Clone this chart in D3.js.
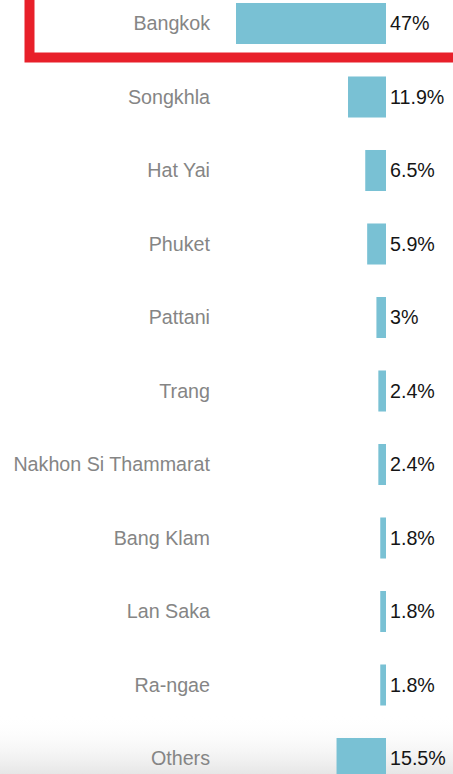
<!DOCTYPE html>
<html>
<head>
<meta charset="utf-8">
<script src="https://cdn.jsdelivr.net/npm/d3@7"></script>
<style>
html,body{margin:0;padding:0;background:#fff;overflow:hidden;}
svg{display:block;}
</style>
</head>
<body>
<svg id="chart" width="453" height="774"></svg>
<script>
const categories = ["Bangkok","Songkhla","Hat Yai","Phuket","Pattani","Trang","Nakhon Si Thammarat","Bang Klam","Lan Saka","Ra-ngae","Others"];
const values = [47, 11.9, 6.5, 5.9, 3, 2.4, 2.4, 1.8, 1.8, 1.8, 15.5];
const valueLabels = ["47%","11.9%","6.5%","5.9%","3%","2.4%","2.4%","1.8%","1.8%","1.8%","15.5%"];
const highlighted = ["Bangkok"];

const W = 453, H = 774;
const svg = d3.select("#chart");

// bottom shadow gradient
const defs = svg.append("defs");
const grad = defs.append("linearGradient").attr("id","shade").attr("x1",0).attr("y1",0).attr("x2",0).attr("y2",1);
grad.append("stop").attr("offset","0%").attr("stop-color","#ffffff").attr("stop-opacity",0);
grad.append("stop").attr("offset","100%").attr("stop-color","#e6e6e6").attr("stop-opacity",1);
svg.append("rect").attr("x",0).attr("y",715).attr("width",W).attr("height",H-715).attr("fill","url(#shade)");

const baseX = 386;
const x = d3.scaleLinear().domain([0, 47]).range([0, 150]);
const y = d3.scaleBand().domain(categories).range([-13.25, -13.25 + 73.5*11]).paddingInner(0.442).paddingOuter(0.221);

const data = categories.map((c,i)=>({c, v: values[i], t: valueLabels[i]}));

svg.append("g").selectAll("rect").data(data).join("rect")
  .attr("x", d => baseX - x(d.v))
  .attr("y", d => y(d.c))
  .attr("width", d => x(d.v))
  .attr("height", y.bandwidth())
  .attr("fill", "#79c1d4");

svg.append("g").selectAll("text").data(data).join("text")
  .attr("x", 210)
  .attr("y", d => y(d.c) + y.bandwidth()/2 + 6.5)
  .attr("text-anchor","end")
  .attr("font-family","'Liberation Sans', Arial, sans-serif")
  .attr("font-size", 19.7)
  .attr("fill","#858585")
  .text(d => d.c);

svg.append("g").selectAll("text").data(data).join("text")
  .attr("x", 390)
  .attr("y", d => y(d.c) + y.bandwidth()/2 + 6.5)
  .attr("font-family","'Liberation Sans', Arial, sans-serif")
  .attr("font-size", 19.7)
  .attr("fill","#151515")
  .text(d => d.t);

// red highlight box
highlighted.forEach(c => {
  const cy = y(c) + y.bandwidth()/2;
  svg.append("rect")
    .attr("x", 29.5)
    .attr("y", cy - 80)
    .attr("width", 500)
    .attr("height", 80 + 34)
    .attr("fill","none")
    .attr("stroke","#e8202a")
    .attr("stroke-width", 10);
});
</script>
</body>
</html>
